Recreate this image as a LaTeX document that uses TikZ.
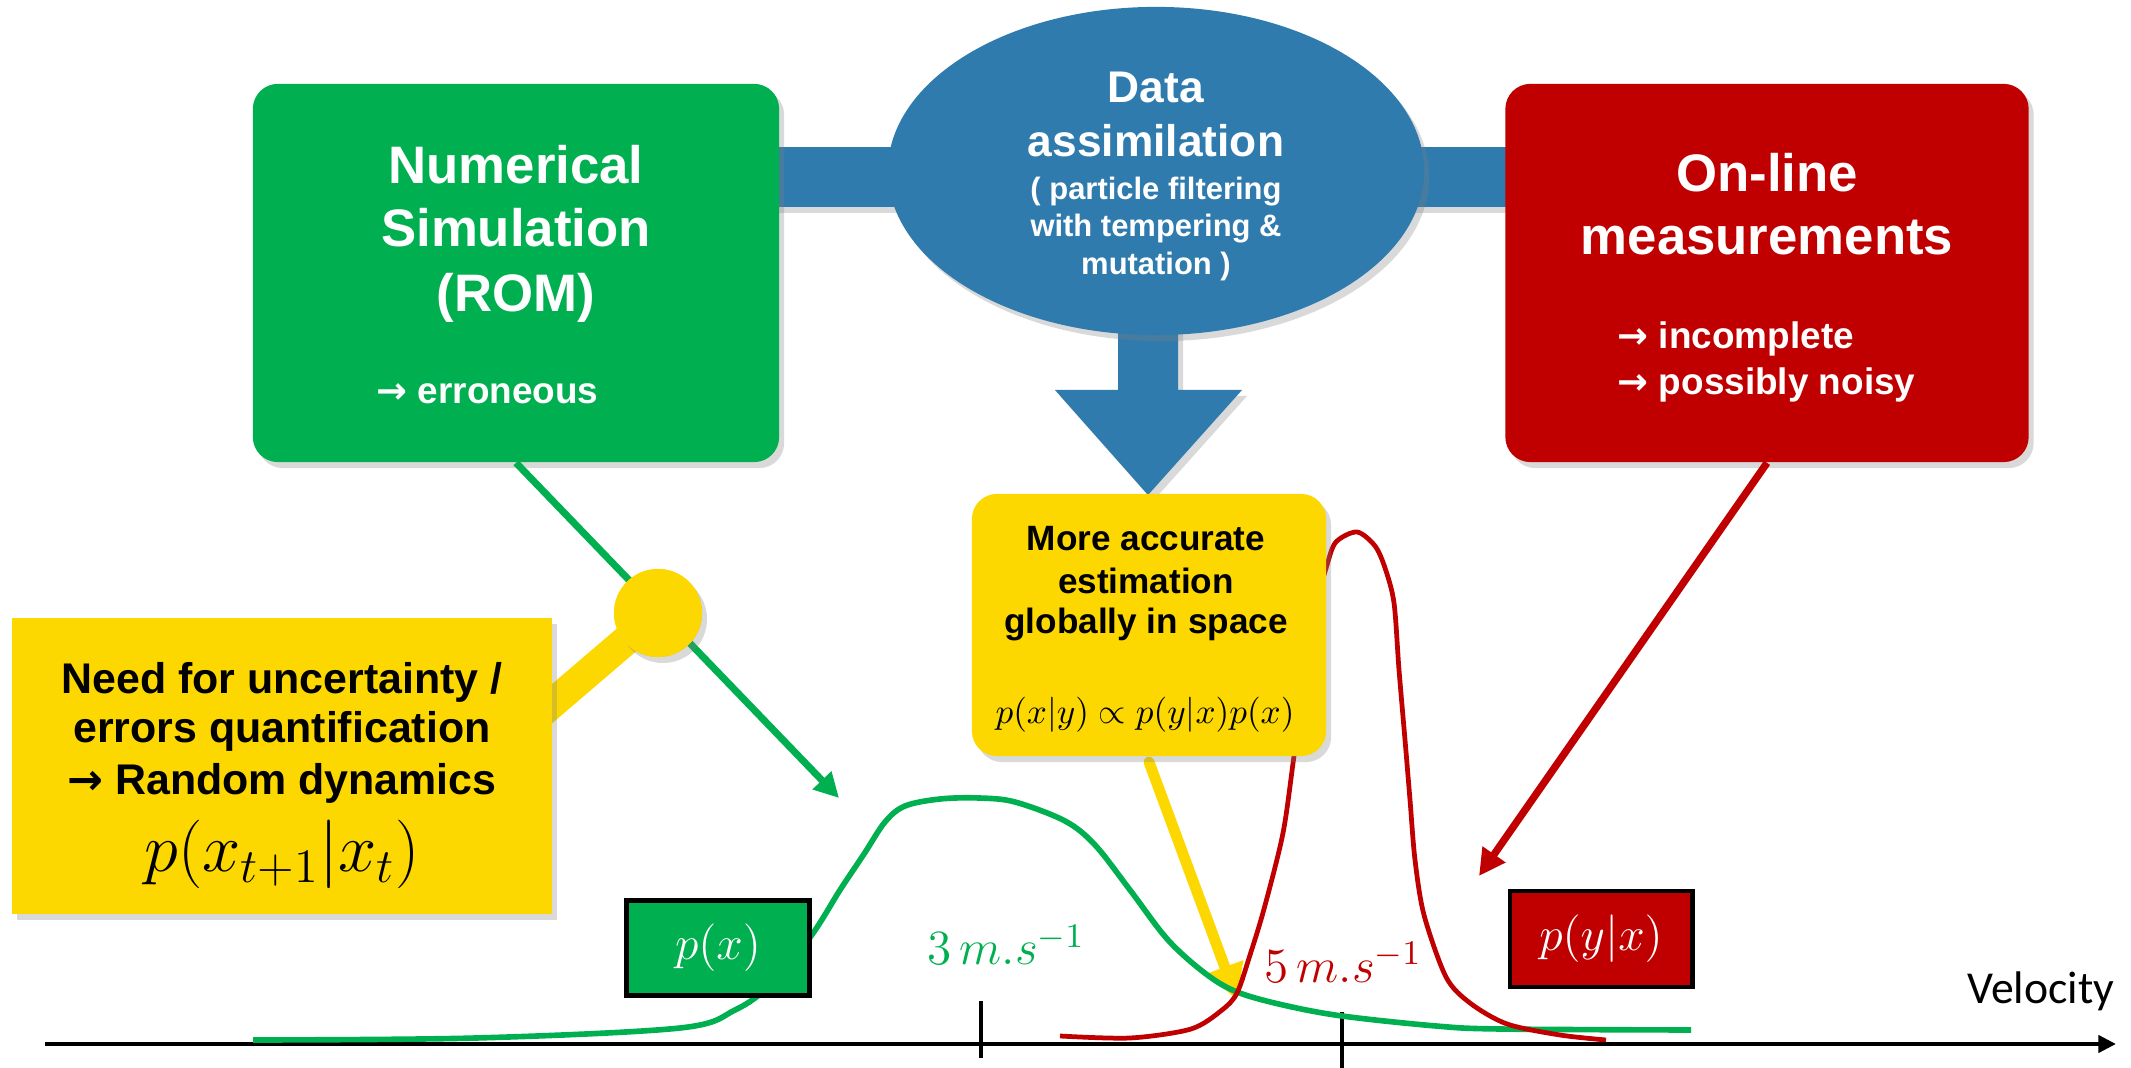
\RequirePackage{fix-cm}
\documentclass[tikz,border=0pt]{standalone}
\usepackage[no-math]{fontspec}
\setmainfont{Liberation Sans}
\newfontfamily\velfont{Carlito}
\newfontfamily\arrowfont{DejaVu Sans}
\usetikzlibrary{arrows.meta,shapes.geometric,shadows}
\definecolor{simgreen}{HTML}{00AF50}
\definecolor{measred}{HTML}{C00000}
\definecolor{dablue}{HTML}{2F7BAE}
\definecolor{noteyellow}{HTML}{FDD800}
\newcommand{\rarr}{{\arrowfont\bfseries →}}
\begin{document}
\begin{tikzpicture}[x=0.01cm,y=-0.01cm,
  shad/.style={drop shadow={opacity=0.3,shadow xshift=0.5mm,shadow yshift=-0.6mm}},
  bigbox/.style={rectangle,rounded corners=0.25cm,inner sep=0,shad},
  titletxt/.style={font=\bfseries\fontsize{15}{18}\selectfont,text=white,anchor=base,inner sep=0},
  subtxt/.style={font=\bfseries\fontsize{10.5}{13}\selectfont,text=white,anchor=base west,inner sep=0},
  datxt/.style={font=\bfseries\fontsize{12.6}{15}\selectfont,text=white,anchor=base,inner sep=0},
  dasmall/.style={font=\bfseries\fontsize{8.8}{11}\selectfont,text=white,anchor=base,inner sep=0},
  notetxt/.style={font=\bfseries\fontsize{10}{12}\selectfont,text=black,anchor=base,inner sep=0},
  leftnote/.style={font=\bfseries\fontsize{12.2}{14}\selectfont,text=black,anchor=base,inner sep=0},
  pbox/.style={rectangle,draw=black,line width=1.4pt,inner sep=0,text=white,font=\fontsize{13.5}{16}\selectfont},
  gcurve/.style={simgreen,line width=1.6pt},
  rcurve/.style={measred,line width=1.35pt},
]
\useasboundingbox (0,0) rectangle (2131,1068);

% blue bar joining the three upper blocks
\coordinate (bartop) at (0,147);
\coordinate (barbot) at (0,207);
\coordinate (gboxc) at (516,273);
\coordinate (rboxc) at (1767,273);
\fill[dablue,shad] (gboxc |- bartop) rectangle (rboxc |- barbot);

% upper boxes
\node[bigbox,fill=simgreen,minimum width=5.26cm,minimum height=3.78cm] (gbox) at (gboxc) {};
\node[bigbox,fill=measred,minimum width=5.23cm,minimum height=3.78cm] (rbox) at (rboxc) {};

% blue down arrow and ellipse
\fill[dablue,shad] (1118,300) -- (1118,390) -- (1055,390) -- (1148,495) -- (1242,390) -- (1178,390) -- (1178,300) -- cycle;
\node[ellipse,fill=dablue,inner sep=0,minimum width=5.36cm,minimum height=3.28cm,shad] (da) at (1156,171) {};

% axis
\coordinate (axl) at (45,1044);
\coordinate (axr) at (2116,1044);
\draw[line width=1.2pt,-{Triangle[length=5pt,width=4.8pt]}] (axl) -- (axr);
\coordinate (t1a) at (981,1001); \coordinate (t1b) at (981,1058);
\coordinate (t2a) at (1342,1012); \coordinate (t2b) at (1342,1068);
\draw[line width=1.2pt] (t1a) -- (t1b);
\draw[line width=1.2pt] (t2a) -- (t2b);

% yellow arrow from the estimation box
\coordinate (ytip) at (1237,1000);
\coordinate (ystart) at (1149,762);
\draw[noteyellow,line width=3.1pt,line cap=round,-{Triangle[length=10pt,width=10.5pt]}] (ystart) -- (ytip);

% density curves
\draw[gcurve] plot[smooth,tension=0.55] coordinates {(253,1040) (476,1038) (680,1028) (735,1010) (770,985) (811,936) (840,890) (864,854) (885,822) (905,806) (940,799) (979,798) (1015,802) (1065,821) (1095,845) (1130,890) (1168,940) (1206,974) (1237,992) (1283,1005) (1342,1016) (1436,1026) (1500,1029) (1691,1030)};
\draw[rcurve] plot[smooth,tension=0.5] coordinates {(1060,1036) (1130,1038) (1191,1029) (1222,1010) (1237,993) (1250,955) (1264,909) (1283,833) (1294,756) (1305,680) (1315,610) (1327,565) (1336,542) (1357,532) (1375,546) (1385,568) (1394,603) (1399,670) (1405,740) (1410,800) (1415,860) (1424,915) (1446,977) (1470,1003) (1507,1024) (1560,1035) (1606,1040)};

% estimation box
\node[bigbox,fill=noteyellow,minimum width=3.54cm,minimum height=2.62cm] (ybox) at (1149,625) {};

% small density boxes
\node[pbox,fill=simgreen,minimum width=1.82cm,minimum height=0.95cm] (px) at (718,948) {$p(x)$};
\node[pbox,fill=measred,minimum width=1.82cm,minimum height=0.96cm] (pyx) at (1601,939) {$p(y|x)$};

% green connector
\coordinate (gtip) at (839,798);
\draw[simgreen,line width=2pt,-{Triangle[length=7pt,width=7pt]}] (gbox.south) -- (gtip);

% pin and left note
\coordinate (stemend) at (540,714);
\node[circle,fill=noteyellow,minimum size=0.88cm,inner sep=0] (pin) at (658,613) {};
\draw[noteyellow,line width=8.5pt] (pin.center) -- (stemend);
\node[circle,fill=noteyellow,minimum size=0.88cm,inner sep=0,shad] (pinhead) at (pin) {};
\node[rectangle,fill=noteyellow,inner sep=0,minimum width=5.40cm,minimum height=2.95cm,shad] (lbox) at (282,766) {};

% red connector
\coordinate (rtip) at (1479,876);
\draw[measred,line width=2.1pt,-{Triangle[length=7.5pt,width=7.5pt]}] (rbox.south) -- (rtip);

% texts: simulation box
\node[titletxt] (g1) at (516,184) {Numerical};
\node[titletxt] (g2) at (516,247) {Simulation};
\node[titletxt] (g3) at (516,312) {(ROM)};
\node[subtxt] (g4) at (376,404) {\rarr\ erroneous};

% texts: data assimilation
\node[datxt] (d1) at (1156,103) {Data};
\node[datxt] (d2) at (1156,157) {assimilation};
\node[dasmall] (d3) at (1156,200) {( particle filtering};
\node[dasmall] (d4) at (1156,237) {with tempering \&};
\node[dasmall] (d5) at (1156,275) {mutation )};

% texts: measurements
\node[titletxt] (r1) at (1767,192) {On-line};
\node[titletxt] (r2) at (1767,255) {measurements};
\node[subtxt] (r3) at (1617,349) {\rarr\ incomplete};
\node[subtxt] (r4) at (1617,395) {\rarr\ possibly noisy};

% texts: estimation box
\node[notetxt] (y1) at (1146,551) {More accurate};
\node[notetxt] (y2) at (1146,594) {estimation};
\node[notetxt] (y3) at (1146,634) {globally in space};
\node[anchor=base,inner sep=0,font=\fontsize{10}{12}\selectfont] (y4) at (1145,724) {$p(x|y) \propto p(y|x)p(x)$};

% texts: left note
\node[leftnote] (l1) at (282,694) {Need for uncertainty /};
\node[leftnote] (l2) at (282,743) {errors quantification};
\node[leftnote] (l3) at (282,795) {\rarr\ Random dynamics};
\node[anchor=base,inner sep=0,font=\fontsize{19.5}{24}\selectfont] (l4) at (282,872) {$p(x_{t+1}|x_t)$};

% axis labels
\node[anchor=base,inner sep=0,text=simgreen,font=\fontsize{14}{16}\selectfont] (v3) at (1006,965) {$3\,m.s^{-1}$};
\node[anchor=base,inner sep=0,text=measred,font=\fontsize{14}{16}\selectfont] (v5) at (1343,982) {$5\,m.s^{-1}$};
\node[anchor=base east,inner sep=0,font=\velfont\fontsize{13}{16}\selectfont] (vel) at (2115,1004) {Velocity};
\end{tikzpicture}
\end{document}
